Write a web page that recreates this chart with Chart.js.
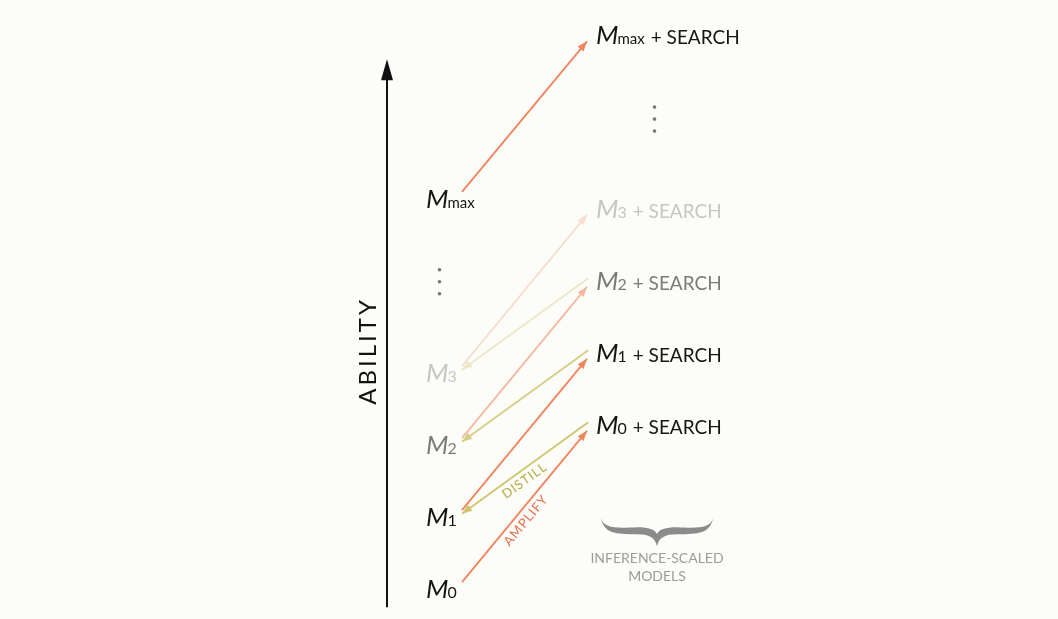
<!DOCTYPE html>
<html>
<head>
<meta charset="utf-8">
<script src="https://cdn.jsdelivr.net/npm/chart.js@4.4.0/dist/chart.umd.min.js"></script>
<style>
  html, body { margin: 0; padding: 0; background: #fcfcf8; }
  #wrap { width: 1058px; height: 619px; }
</style>
</head>
<body>
<div id="wrap"><canvas id="ampChart" width="1058" height="619"></canvas></div>
<script>
// model subscripts, bottom to top
var modelSubs = ['0', '1', '2', '3', 'max'];
// ability of each base model (left column)
var baseAbility = [0, 1, 2, 3, 5.42];
// ability of each model once it is wrapped with search (right column)
var searchAbility = [2.28, 3.28, 4.28, 5.28, 7.69];
// distill: search model i -> base model i+1
var distillFrom = [0, 1, 2];
var distillTo = [1, 2, 3];
var axisTitle = 'ABILITY';
var braceLines = ['INFERENCE-SCALED', 'MODELS'];

// styling per model level
var textTone = ['#151515', '#151515', '#7b7b7b', '#c6c6c6', '#151515'];
var ampColor = ['#f0845c', '#f0845c', '#f6b7a0', '#f9dcd0', '#f0845c'];
var distColor = ['#cfc56c', '#d6cd85', '#ebe8c4'];

var datasets = [];
for (var i = 0; i < baseAbility.length; i++) {
    datasets.push({
        kind: 'amp',
        data: [{x: 0, y: baseAbility[i] + 0.11}, {x: 1, y: searchAbility[i] - 0.07}],
        borderColor: ampColor[i],
        order: i == 2 || i == 3 ? 2 : 0
    });
}
for (var j = 0; j < distillFrom.length; j++) {
    datasets.push({
        kind: 'dist',
        data: [{x: 1.01, y: searchAbility[distillFrom[j]] + 0.05}, {x: 0, y: baseAbility[distillTo[j]] + 0.06}],
        borderColor: distColor[j],
        order: 1
    });
}
datasets.forEach(function (d) {
    d.showLine = true;
    d.borderWidth = 1.8;
    d.pointRadius = 0;
    d.fill = false;
});

function drawModelLabel(ctx, x, y, sub, tail, color) {
    ctx.fillStyle = color;
    ctx.textBaseline = 'alphabetic';
    ctx.textAlign = 'left';
    ctx.font = 'italic 26px Lato';
    ctx.fillText('M', x - 1, y + 8);
    var w = ctx.measureText('M').width;
    ctx.font = sub == 'max' ? '15px Lato' : '16px Lato';
    ctx.fillText(sub, x + w - 2, y + 8);
    var w2 = ctx.measureText(sub).width;
    if (tail) {
        ctx.font = '19px Lato';
        ctx.fillText(tail, x + w + w2 + 4, y + 8);
    }
}

var diagramPlugin = {
    id: 'diagram',
    afterDatasetsDraw: function (chart) {
        var ctx = chart.ctx;
        var xs = chart.scales.x, ys = chart.scales.y;
        ctx.save();

        // arrow heads
        chart.data.datasets.forEach(function (ds, k) {
            var pts = chart.getDatasetMeta(k).data;
            var a = pts[0], b = pts[1];
            var ang = Math.atan2(b.y - a.y, b.x - a.x);
            ctx.fillStyle = ds.borderColor;
            ctx.beginPath();
            ctx.moveTo(b.x, b.y);
            ctx.lineTo(b.x - 10 * Math.cos(ang) + 3.8 * Math.sin(ang), b.y - 10 * Math.sin(ang) - 3.8 * Math.cos(ang));
            ctx.lineTo(b.x - 10 * Math.cos(ang) - 3.8 * Math.sin(ang), b.y - 10 * Math.sin(ang) + 3.8 * Math.cos(ang));
            ctx.closePath();
            ctx.fill();
        });

        // ability axis
        var ax = xs.getPixelForValue(-0.6);
        ctx.strokeStyle = '#111';
        ctx.fillStyle = '#111';
        ctx.lineWidth = 2;
        ctx.beginPath();
        ctx.moveTo(ax, ys.getPixelForValue(-0.24));
        ctx.lineTo(ax, ys.getPixelForValue(7.1));
        ctx.stroke();
        var tip = ys.getPixelForValue(7.37);
        ctx.beginPath();
        ctx.moveTo(ax, tip);
        ctx.lineTo(ax - 6, tip + 21);
        ctx.lineTo(ax + 6, tip + 21);
        ctx.closePath();
        ctx.fill();

        ctx.save();
        ctx.translate(ax - 19, ys.getPixelForValue(3.32));
        ctx.rotate(-Math.PI / 2);
        ctx.font = '24px Lato';
        ctx.letterSpacing = '3px';
        ctx.textAlign = 'center';
        ctx.textBaseline = 'middle';
        ctx.fillStyle = '#111';
        ctx.fillText(axisTitle, 0, 0);
        ctx.restore();

        // labels
        var lx = xs.getPixelForValue(0) - 35;
        var rx = xs.getPixelForValue(1) + 10;
        for (var i = 0; i < modelSubs.length; i++) {
            drawModelLabel(ctx, lx, ys.getPixelForValue(baseAbility[i]), modelSubs[i], null, textTone[i]);
            drawModelLabel(ctx, rx, ys.getPixelForValue(searchAbility[i]), modelSubs[i], '+ SEARCH', textTone[i]);
        }

        // ellipses
        ctx.fillStyle = '#777';
        [[-0.18, 4.28], [1.54, 6.54]].forEach(function (p) {
            var cx = xs.getPixelForValue(p[0]), cy = ys.getPixelForValue(p[1]);
            [-12, 0, 12].forEach(function (o) {
                ctx.beginPath();
                ctx.arc(cx, cy + o, 1.8, 0, Math.PI * 2);
                ctx.fill();
            });
        });

        // arrow captions
        var d0 = chart.getDatasetMeta(5).data, a0 = chart.getDatasetMeta(0).data;
        function caption(text, p, q, t, off, color) {
            var x = p.x + (q.x - p.x) * t, y = p.y + (q.y - p.y) * t;
            var ang = Math.atan2(q.y - p.y, q.x - p.x);
            if (ang > Math.PI / 2 || ang < -Math.PI / 2) ang += Math.PI;
            ctx.save();
            ctx.translate(x, y);
            ctx.rotate(ang);
            ctx.font = '13px Lato';
            ctx.letterSpacing = '1px';
            ctx.textAlign = 'center';
            ctx.textBaseline = 'middle';
            ctx.fillStyle = color;
            ctx.fillText(text, 0, off);
            ctx.restore();
        }
        caption('DISTILL', d0[0], d0[1], 0.55, 10, '#b8ab48');
        caption('AMPLIFY', a0[0], a0[1], 0.45, 10, '#e8704f');

        // brace
        var bc = xs.getPixelForValue(1.56), by = ys.getPixelForValue(0.76);
        ctx.fillStyle = '#8b8b8b';
        ctx.beginPath();
        ctx.moveTo(bc - 56, by - 17);
        ctx.bezierCurveTo(bc - 53, by - 2, bc - 42, by - 1, bc - 20, by - 1);
        ctx.bezierCurveTo(bc - 8, by - 1, bc - 2, by + 2, bc, by + 11);
        ctx.bezierCurveTo(bc + 2, by + 2, bc + 8, by - 1, bc + 20, by - 1);
        ctx.bezierCurveTo(bc + 42, by - 1, bc + 53, by - 2, bc + 56, by - 17);
        ctx.bezierCurveTo(bc + 53, by - 7, bc + 42, by - 7, bc + 20, by - 8);
        ctx.bezierCurveTo(bc + 8, by - 8, bc + 2, by - 6, bc, by - 1);
        ctx.bezierCurveTo(bc - 2, by - 6, bc - 8, by - 8, bc - 20, by - 8);
        ctx.bezierCurveTo(bc - 42, by - 7, bc - 53, by - 7, bc - 56, by - 17);
        ctx.closePath();
        ctx.fill();

        ctx.font = '14px Lato';
        ctx.letterSpacing = '0px';
        ctx.fillStyle = '#9c9c9c';
        ctx.textAlign = 'center';
        ctx.textBaseline = 'middle';
        ctx.fillText(braceLines[0], bc, by + 23);
        ctx.fillText(braceLines[1], bc, by + 41);

        ctx.restore();
    }
};

new Chart(document.getElementById('ampChart'), {
    type: 'scatter',
    data: { datasets: datasets },
    options: {
        responsive: false,
        animation: false,
        layout: { padding: 0 },
        plugins: {
            legend: { display: false },
            tooltip: { enabled: false }
        },
        scales: {
            x: { type: 'linear', display: false, min: -3.696, max: 4.768 },
            y: { type: 'linear', display: false, min: -0.403, max: 8.194 }
        }
    },
    plugins: [diagramPlugin]
});
</script>
</body>
</html>
